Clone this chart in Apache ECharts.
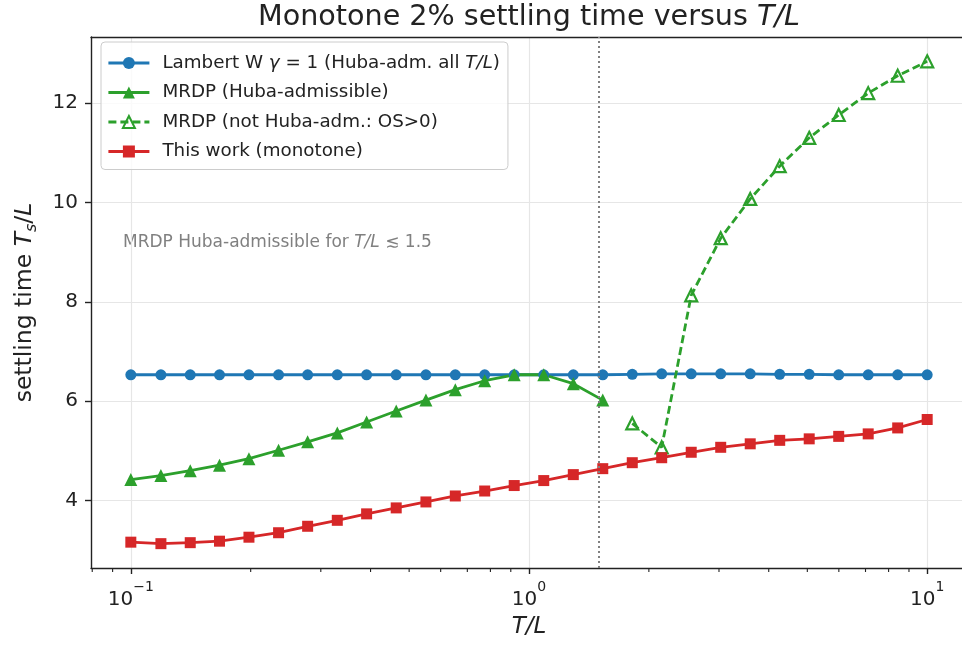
<!DOCTYPE html>
<html>
<head>
<meta charset="utf-8">
<script src="https://cdn.jsdelivr.net/npm/echarts@6/dist/echarts.min.js"></script>
<style>
  html, body { margin: 0; padding: 0; background: #fff; }
  #main { width: 962px; height: 645px; }
</style>
</head>
<body>
<div id="main"></div>
<script>
// T/L sample points (log spaced)
const tl = [0.1, 0.119, 0.141, 0.167, 0.198, 0.235, 0.278, 0.33, 0.391, 0.464,
  0.551, 0.653, 0.774, 0.918, 1.089, 1.292, 1.532, 1.817, 2.154, 2.555,
  3.03, 3.594, 4.262, 5.055, 5.995, 7.11, 8.432, 10];

const lambertW = [6.53, 6.53, 6.53, 6.53, 6.53, 6.53, 6.53, 6.53, 6.53, 6.53,
  6.53, 6.53, 6.53, 6.53, 6.53, 6.53, 6.53, 6.54, 6.55, 6.55,
  6.55, 6.55, 6.54, 6.54, 6.53, 6.53, 6.53, 6.53];

// MRDP, first 17 points are Huba-admissible, the rest are not
const mrdpAdm = [4.42, 4.50, 4.60, 4.71, 4.84, 5.01, 5.18, 5.36, 5.58, 5.80,
  6.02, 6.23, 6.41, 6.53, 6.53, 6.35, 6.02];
const mrdpNotAdm = [5.55, 5.07, 8.13, 9.28, 10.07, 10.73, 11.30, 11.76, 12.20, 12.55, 12.84];

const thisWork = [3.16, 3.13, 3.15, 3.18, 3.26, 3.35, 3.48, 3.60, 3.73, 3.85,
  3.97, 4.09, 4.19, 4.30, 4.40, 4.52, 4.64, 4.76, 4.86, 4.97,
  5.07, 5.14, 5.21, 5.24, 5.29, 5.34, 5.46, 5.63];

const xMajor = [0.1, 1, 10];
const xMinor = [0.08, 0.09, 0.2, 0.3, 0.4, 0.5, 0.6, 0.7, 0.8, 0.9,
  2, 3, 4, 5, 6, 7, 8, 9];
const yTicks = [4, 6, 8, 10, 12];
const thresholdTL = 1.5;

const names = [
  'Lambert W γ = 1 (Huba-adm. all T/L)',
  'MRDP (Huba-admissible)',
  'MRDP (not Huba-adm.: OS>0)',
  'This work (monotone)'
];
const legendRich = {};
legendRich[names[0]] = 'Lambert W {i|γ} = 1 (Huba-adm. all {i|T/L})';
legendRich[names[1]] = names[1];
legendRich[names[2]] = names[2];
legendRich[names[3]] = names[3];

const FONT = 'DejaVu Sans';
const BLUE = '#1f77b4', GREEN = '#2ca02c', RED = '#d62728';

function pairs(xs, ys) {
  return ys.map(function (y, i) { return [xs[i], y]; });
}

const chart = echarts.init(document.getElementById('main'));

const option = {
  animation: false,
  textStyle: { fontFamily: FONT },
  grid: {
    left: 91, top: 37, width: 876, height: 531,
    outerBoundsMode: 'none'
  },
  legend: {
    data: names,
    orient: 'vertical',
    left: 101, top: 42,
    padding: [11, 8, 8, 6],
    itemGap: 9.5,
    itemWidth: 41,
    itemHeight: 15,
    lineStyle: { width: 2.8 },
    backgroundColor: 'rgba(255,255,255,0.8)',
    borderColor: '#cccccc', borderWidth: 1, borderRadius: 4,
    formatter: function (name) { return legendRich[name]; },
    textStyle: {
      fontFamily: FONT, fontSize: 18.3, color: '#222', padding: [0, 0, 0, 8],
      lineHeight: 20,
      rich: { i: { fontFamily: FONT, fontSize: 18.3, fontStyle: 'italic', color: '#222' } }
    }
  },
  xAxis: [{
    type: 'log',
    logBase: 10,
    min: 0.07943,
    max: 12.589,
    name: '{i|T/L}',
    nameLocation: 'middle',
    nameGap: 48,
    nameTextStyle: { rich: { i: { fontFamily: FONT, fontSize: 23, fontStyle: 'italic', color: '#222' } } },
    axisLine: { onZero: false, lineStyle: { color: '#222', width: 1.4 } },
    axisTick: { customValues: xMajor, length: 6, lineStyle: { color: '#222', width: 1.4 } },
    axisLabel: {
      customValues: xMajor,
      margin: 12,
      formatter: function (v) {
        const e = Math.round(Math.log10(v));
        return '{b|10}{s|' + (e < 0 ? '−' + (-e) : e) + '}';
      },
      rich: {
        b: { fontFamily: FONT, fontSize: 20, lineHeight: 30, verticalAlign: 'bottom', color: '#222' },
        s: { fontFamily: FONT, fontSize: 14, lineHeight: 14, verticalAlign: 'top', color: '#222' }
      }
    },
    splitLine: { show: true, lineStyle: { color: '#e6e6e6', width: 1.2 } }
  }, {
    // top spine only
    type: 'log',
    logBase: 10,
    min: 0.07943,
    max: 12.589,
    position: 'top',
    axisLine: { show: true, onZero: false, lineStyle: { color: '#222', width: 1.4 } },
    axisTick: { show: false },
    axisLabel: { show: false },
    splitLine: { show: false }
  }],
  yAxis: {
    type: 'value',
    min: 2.64,
    max: 13.33,
    name: '{n|settling time }{i|T}{sub|s}{n|/}{i|L}',
    nameLocation: 'middle',
    nameGap: 51,
    nameTextStyle: {
      rich: {
        n: { fontFamily: FONT, fontSize: 23.5, lineHeight: 30, verticalAlign: 'middle', color: '#222' },
        i: { fontFamily: FONT, fontSize: 23.5, lineHeight: 30, verticalAlign: 'middle', fontStyle: 'italic', color: '#222' },
        sub: { fontFamily: FONT, fontSize: 16, lineHeight: 16, verticalAlign: 'bottom', fontStyle: 'italic', color: '#222' }
      }
    },
    axisLine: { show: true, lineStyle: { color: '#222', width: 1.4 } },
    axisTick: { show: true, customValues: yTicks, length: 6, lineStyle: { color: '#222', width: 1.4 } },
    axisLabel: { customValues: yTicks, margin: 13, fontFamily: FONT, fontSize: 20, color: '#222' },
    splitLine: { show: true, lineStyle: { color: '#e6e6e6', width: 1.2 } }
  },
  graphic: [
    {
      type: 'text', x: 529, y: 18,
      style: {
        text: '{n|Monotone 2% settling time versus }{i|T/L}',
        align: 'center', verticalAlign: 'middle',
        rich: {
          n: { fontFamily: FONT, fontSize: 28.6, fill: '#222' },
          i: { fontFamily: FONT, fontSize: 28.6, fontStyle: 'italic', fill: '#222' }
        }
      }
    },
    {
      type: 'text', x: 123, y: 243,
      style: {
        text: '{n|MRDP Huba-admissible for }{i|T/L}{n| ≲ 1.5}',
        verticalAlign: 'middle',
        rich: {
          n: { fontFamily: FONT, fontSize: 17, fill: '#808080' },
          i: { fontFamily: FONT, fontSize: 17, fontStyle: 'italic', fill: '#808080' }
        }
      }
    }
  ],
  series: [
    {
      name: 'minor ticks',
      type: 'custom',
      silent: true,
      clip: false,
      data: xMinor.map(function (v) { return [v]; }),
      encode: { x: 0 },
      renderItem: function (params, api) {
        const cs = params.coordSys;
        const px = api.coord([api.value(0), 5])[0];
        const y0 = cs.y + cs.height;
        return {
          type: 'line',
          shape: { x1: px, y1: y0, x2: px, y2: y0 + 4 },
          style: { stroke: '#222', lineWidth: 1.1 }
        };
      }
    },
    {
      name: names[0],
      type: 'line',
      data: pairs(tl, lambertW),
      symbol: 'circle', symbolSize: 11,
      itemStyle: { color: BLUE },
      lineStyle: { color: BLUE, width: 2.8 },
      markLine: {
        silent: true, symbol: 'none', label: { show: false },
        lineStyle: { type: [2, 3], color: '#808080', width: 2 },
        data: [{ xAxis: thresholdTL }]
      }
    },
    {
      name: names[1],
      type: 'line',
      data: pairs(tl, mrdpAdm),
      symbol: 'triangle', symbolSize: 13,
      itemStyle: { color: GREEN },
      lineStyle: { color: GREEN, width: 2.8 }
    },
    {
      name: names[2],
      type: 'line',
      data: pairs(tl.slice(mrdpAdm.length), mrdpNotAdm),
      symbol: 'triangle', symbolSize: 12,
      itemStyle: { color: 'rgba(255,255,255,0)', borderColor: GREEN, borderWidth: 2.2 },
      lineStyle: { color: GREEN, width: 2.8, type: [8, 4] }
    },
    {
      name: names[3],
      type: 'line',
      data: pairs(tl, thisWork),
      symbol: 'rect', symbolSize: 11,
      itemStyle: { color: RED },
      lineStyle: { color: RED, width: 2.8 }
    }
  ]
};

chart.setOption(option);
</script>
</body>
</html>
